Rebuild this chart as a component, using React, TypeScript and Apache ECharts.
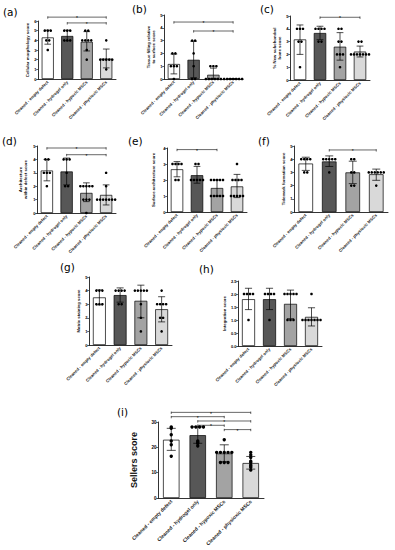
import React, { useEffect, useRef } from 'react';
import * as echarts from 'echarts';

const CATEGORIES = ['Cleaned - empty defect', 'Cleaned - hydrogel only', 'Cleaned - hypoxic MSCs', 'Cleaned - physioxic MSCs'];
const BAR_COLORS = ['#ffffff', '#575757', '#a3a3a3', '#d9d9d9'];

// (a) Cellular morphology score
const aMean = [4.3, 4.45, 3.85, 2.1];
const aLow = [3.6, 3.95, 2.9, 1.15];
const aHigh = [5.05, 5.05, 4.9, 3.1];
const aDots = [[5, 5, 5, 4, 4, 3], [5, 5, 5, 4, 4, 4], [5, 5, 4, 4, 4, 4, 3, 2], [4, 2, 2, 2, 2, 2, 1]];
const aSig = [[0, 3, 6.4], [1, 3, 5.8]];

// (b) Tissue filling
const bMean = [1.17, 1.5, 0.33, 0.02];
const bLow = [0.4, 0.1, 0, 0];
const bHigh = [1.95, 2.95, 0.85, 0];
const bDots = [[2, 2, 1, 1, 1, 0], [3, 3, 2, 1, 0, 0], [1, 1, 1, 0, 0, 0, 0, 0, 0], [0, 0, 0, 0, 0, 0, 0]];
const bSig = [[0, 3, 4.45], [1, 3, 3.75]];

// (c) New subchondral bone
const cMean = [3.17, 3.67, 2.6, 2.22];
const cLow = [2.0, 3.15, 1.55, 1.8];
const cHigh = [4.3, 4.2, 3.7, 2.65];
const cDots = [[4, 4, 4, 3, 3, 1], [4, 4, 4, 4, 3, 3], [4, 4, 3, 3, 2, 2, 2, 1], [3, 3, 2, 2, 2, 2, 2, 2, 2]];
const cSig = [[1, 3, 4.9]];

// (d) Architecture within defect
const dMean = [3.17, 3.1, 1.5, 1.35];
const dLow = [2.4, 2.1, 0.85, 0.6];
const dHigh = [4.0, 4.1, 2.25, 2.1];
const dDots = [[4, 4, 3, 3, 3, 2], [4, 4, 4, 3, 2, 2], [2, 2, 2, 2, 2, 1, 1, 1, 0], [3, 2, 1, 1, 1, 1, 1, 1, 1]];
const dSig = [[0, 3, 4.85], [1, 3, 4.35]];

// (e) Surface architecture
const eMean = [2.67, 2.3, 1.5, 1.6];
const eLow = [2.2, 1.8, 1.0, 0.9];
const eHigh = [3.15, 2.85, 2.0, 2.35];
const eDots = [[3, 3, 3, 3, 2, 2], [3, 3, 2, 2, 2, 2, 2], [2, 2, 2, 2, 2, 1, 1, 1, 1, 1], [3, 2, 2, 2, 2, 1, 1, 1, 1, 1]];
const eSig = [[0, 2, 3.9]];

// (f) Tidemark formation
const fMean = [3.67, 3.83, 3.0, 2.86];
const fLow = [3.15, 3.45, 2.15, 2.4];
const fHigh = [4.15, 4.25, 3.85, 3.25];
const fDots = [[4, 4, 4, 4, 3, 3], [4, 4, 4, 4, 4, 3], [4, 4, 3, 3, 2, 2], [3, 3, 3, 3, 3, 3, 2]];
const fSig = [[1, 3, 4.7]];

// (g) Matrix staining
const gMean = [3.5, 3.67, 3.25, 2.63];
const gLow = [2.95, 3.15, 2.0, 1.7];
const gHigh = [4.05, 4.2, 4.4, 3.55];
const gDots = [[4, 4, 4, 3, 3, 3], [4, 4, 4, 4, 3, 3], [4, 4, 4, 4, 4, 3, 2, 1], [4, 3, 3, 3, 3, 2, 2, 1]];
const gSig: number[][] = [];

// (h) Integration
const hMean = [1.8, 1.8, 1.62, 1.12];
const hLow = [1.4, 1.4, 1.05, 0.77];
const hHigh = [2.22, 2.22, 2.15, 1.47];
const hDots = [[2, 2, 2, 2, 1], [2, 2, 2, 2, 1], [2, 2, 2, 2, 2, 1, 1, 1], [2, 1, 1, 1, 1, 1, 1, 1]];
const hSig: number[][] = [];

// (i) Sellers score
const iMean = [23, 24.8, 17.6, 13.8];
const iLow = [18.8, 21.6, 14.3, 11.4];
const iHigh = [27.5, 28.1, 21, 16.4];
const iDots = [[28, 27.5, 25, 22.5, 21, 16.5], [28, 28, 28, 28, 22.5, 22, 21.5, 20.5], [23, 18, 18, 18, 18, 18, 14, 14, 14], [18, 17, 16, 14.5, 14, 13, 12.5, 12, 11]];
const iSig = [[0, 3, 33.8], [0, 2, 32.1], [1, 3, 30.4], [1, 2, 28.7], [2, 3, 27]];

const PANELS = [
  { label: '(a)', lx: 3, ly: 12, grid: { left: 38, top: 21, width: 78, height: 58 }, max: 6, interval: 1, name: 'Cellular morphology score', gap: 5, mean: aMean, low: aLow, high: aHigh, dots: aDots, sig: aSig },
  { label: '(b)', lx: 132, ly: 9, grid: { left: 164, top: 15, width: 79, height: 64 }, max: 5, interval: 1, name: 'Tissue filling relative\nto surface score', gap: 5, mean: bMean, low: bLow, high: bHigh, dots: bDots, sig: bSig },
  { label: '(c)', lx: 260, ly: 9, grid: { left: 290, top: 16, width: 80, height: 64 }, max: 5, interval: 1, name: '% New subchondral\nbone score', gap: 5, mean: cMean, low: cLow, high: cHigh, dots: cDots, sig: cSig },
  { label: '(d)', lx: 2, ly: 141, grid: { left: 37, top: 146, width: 79, height: 67 }, max: 5, interval: 1, name: 'Architecture\nwithin defect score', gap: 6, mean: dMean, low: dLow, high: dHigh, dots: dDots, sig: dSig },
  { label: '(e)', lx: 128, ly: 141, grid: { left: 167, top: 148, width: 80, height: 64 }, max: 4, interval: 1, name: 'Surface architecture score', gap: 8, mean: eMean, low: eLow, high: eHigh, dots: eDots, sig: eSig },
  { label: '(f)', lx: 258, ly: 141, grid: { left: 294, top: 146, width: 94, height: 66 }, max: 5, interval: 1, name: 'Tidemark formation score', gap: 5, mean: fMean, low: fLow, high: fHigh, dots: fDots, sig: fSig },
  { label: '(g)', lx: 60, ly: 267, grid: { left: 89, top: 277, width: 83, height: 68 }, max: 5, interval: 1, name: 'Matrix staining score', gap: 5, mean: gMean, low: gLow, high: gHigh, dots: gDots, sig: gSig },
  { label: '(h)', lx: 199, ly: 269, grid: { left: 238, top: 281, width: 84, height: 65 }, max: 2.5, interval: 0.5, name: 'Integration score', gap: 8, mean: hMean, low: hLow, high: hHigh, dots: hDots, sig: hSig, dec: 1 },
  { label: '(i)', lx: 117, ly: 412, grid: { left: 158, top: 422, width: 106, height: 76 }, max: 30, interval: 10, name: 'Sellers score', gap: 13, mean: iMean, low: iLow, high: iHigh, dots: iDots, sig: iSig, big: true },
];

const FONT = 'Liberation Sans, Arial, sans-serif';

function dotItems(dots: number[][]) {
  const out: number[][] = [];
  dots.forEach((vals, c) => {
    const counts: Record<string, number> = {};
    vals.forEach((v) => { counts[v] = (counts[v] || 0) + 1; });
    const seen: Record<string, number> = {};
    vals.forEach((v) => {
      const k = seen[v] || 0;
      seen[v] = k + 1;
      out.push([c, v, k, counts[v]]);
    });
  });
  return out;
}

function buildOption() {
  const grid: any[] = [];
  const xAxis: any[] = [];
  const yAxis: any[] = [];
  const series: any[] = [];
  const graphic: any[] = [];
  PANELS.forEach((p: any, idx) => {
    grid.push({ ...p.grid, containLabel: false });
    xAxis.push({
      type: 'category', gridIndex: idx, data: CATEGORIES,
      axisLine: { lineStyle: { color: '#000', width: 0.8 } },
      axisTick: { show: false },
      axisLabel: { rotate: 45, interval: 0, fontSize: p.big ? 5 : 4.2, fontWeight: 'bold', color: '#222', margin: 2.5, fontFamily: FONT },
    });
    yAxis.push({
      type: 'value', gridIndex: idx, min: 0, max: p.max, interval: p.interval,
      name: p.name, nameLocation: 'middle', nameGap: p.gap + (p.big ? 6 : 3),
      nameTextStyle: { fontSize: p.big ? 9 : 4.3, fontWeight: 'bold', color: '#111', fontFamily: FONT, lineHeight: p.big ? 10 : 5 },
      axisLine: { show: true, lineStyle: { color: '#000', width: 0.8 } },
      axisTick: { show: true, length: 1.8, lineStyle: { color: '#000', width: 0.6 } },
      axisLabel: { fontSize: p.big ? 4.5 : 4, fontWeight: 'bold', color: '#000', margin: 1.5, fontFamily: FONT, formatter: (v: number) => (p.dec ? v.toFixed(1) : String(v)) },
      splitLine: { show: false },
    });
    series.push({
      type: 'bar', xAxisIndex: idx, yAxisIndex: idx, barWidth: '62%',
      data: p.mean.map((v: number, j: number) => ({ value: v, itemStyle: { color: BAR_COLORS[j], borderColor: '#000', borderWidth: 0.7 } })),
      z: 2,
    });
    const errData = p.mean.map((_: number, j: number) => [j, p.low[j], p.high[j]]);
    series.push({
      type: 'custom', xAxisIndex: idx, yAxisIndex: idx, z: 3, clip: false,
      data: errData,
      renderItem: (params: any, api: any) => {
        const c = api.value(0);
        const lo = api.coord([c, api.value(1)]);
        const hi = api.coord([c, api.value(2)]);
        const hw = api.size([1, 0])[0] * 0.17;
        const st = { stroke: '#000', lineWidth: 0.7 };
        return {
          type: 'group', children: [
            { type: 'line', shape: { x1: lo[0], y1: lo[1], x2: hi[0], y2: hi[1] }, style: st },
            { type: 'line', shape: { x1: hi[0] - hw, y1: hi[1], x2: hi[0] + hw, y2: hi[1] }, style: st },
            { type: 'line', shape: { x1: lo[0] - hw, y1: lo[1], x2: lo[0] + hw, y2: lo[1] }, style: st },
          ],
        };
      },
    });
    const spacing = p.big ? 3.8 : 3.0;
    const r = p.big ? 1.7 : 1.3;
    series.push({
      type: 'custom', xAxisIndex: idx, yAxisIndex: idx, z: 4, clip: false,
      data: dotItems(p.dots),
      renderItem: (params: any, api: any) => {
        const pt = api.coord([api.value(0), api.value(1)]);
        const k = api.value(2);
        const n = api.value(3);
        return { type: 'circle', shape: { cx: pt[0] + (k - (n - 1) / 2) * spacing, cy: pt[1], r }, style: { fill: '#000' } };
      },
    });
    if (p.sig.length) {
      series.push({
        type: 'custom', xAxisIndex: idx, yAxisIndex: idx, z: 5, clip: false,
        data: p.sig,
        renderItem: (params: any, api: any) => {
          const p1 = api.coord([api.value(0), api.value(2)]);
          const p2 = api.coord([api.value(1), api.value(2)]);
          const st = { stroke: '#000', lineWidth: 0.6 };
          const t = 1.6;
          return {
            type: 'group', children: [
              { type: 'line', shape: { x1: p1[0], y1: p1[1], x2: p2[0], y2: p2[1] }, style: st },
              { type: 'line', shape: { x1: p1[0], y1: p1[1] - t / 2, x2: p1[0], y2: p1[1] + t }, style: st },
              { type: 'line', shape: { x1: p2[0], y1: p2[1] - t / 2, x2: p2[0], y2: p2[1] + t }, style: st },
              { type: 'text', style: { text: '*', x: (p1[0] + p2[0]) / 2, y: p1[1] + 1.2, align: 'center', verticalAlign: 'middle', fontSize: 5, fill: '#000', fontFamily: FONT } },
            ],
          };
        },
      });
    }
    graphic.push({ type: 'text', left: p.lx, top: p.ly - 6, style: { text: p.label, fontSize: 10.5, fill: '#000', fontFamily: 'DejaVu Sans, sans-serif' } });
  });
  return { animation: false, backgroundColor: '#fff', grid, xAxis, yAxis, series, graphic };
}

export default function App() {
  const ref = useRef<HTMLDivElement>(null);
  useEffect(() => {
    if (!ref.current) return;
    const chart = echarts.init(ref.current, undefined, { renderer: 'svg' });
    chart.setOption(buildOption() as any);
    return () => chart.dispose();
  }, []);
  return <div ref={ref} style={{ position: 'absolute', left: 0, top: 0, width: 395, height: 550, background: '#fff' }} />;
}
